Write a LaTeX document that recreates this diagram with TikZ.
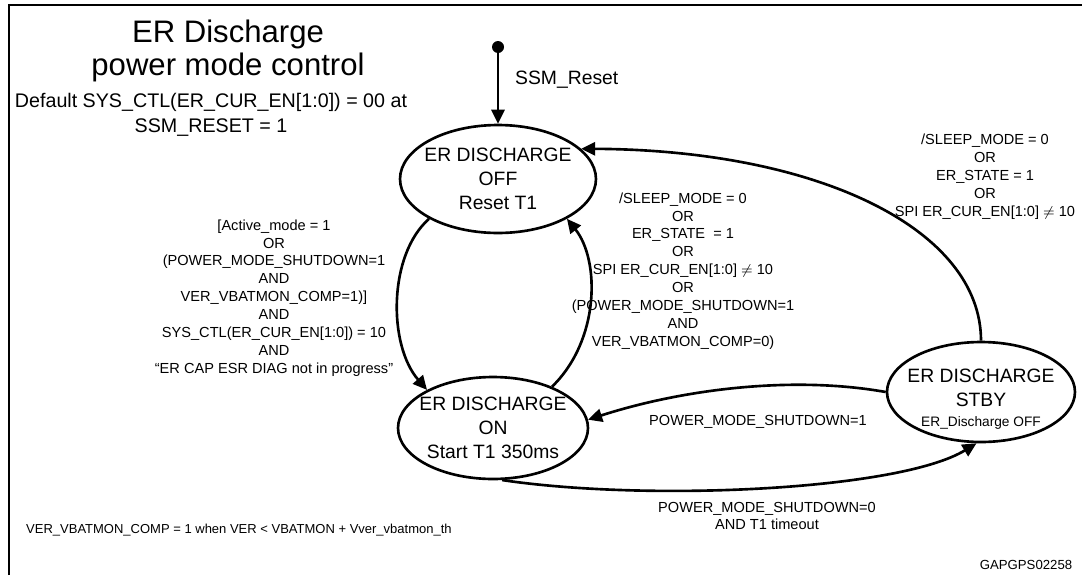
\documentclass[tikz,border=0pt]{standalone}
\usepackage{fontspec}
\setmainfont{Liberation Sans}
\usetikzlibrary{shapes.geometric, arrows.meta, positioning}

\begin{document}
\begin{tikzpicture}[
    x=0.02cm, y=-0.02cm,
    state/.style={ellipse, draw, line width=1.5pt, inner sep=0pt},
    statetext/.style={align=center, font=\fontsize{11}{13.5}\selectfont},
    cond/.style={align=center, font=\fontsize{8.3}{10.2}\selectfont},
    arrow/.style={-{Triangle[length=8pt, width=7.5pt]}, line width=1.5pt}
]
    \useasboundingbox (0,0) rectangle (1082,575);
    \draw[line width=0.8pt] (9,575) -- (9,5) -- (1082,5);

    \node[align=center, font=\fontsize{17.7}{18.7}\selectfont] (title) at (228,51) {ER Discharge\\power mode control};
    \node[align=center, font=\fontsize{11.2}{14}\selectfont] (default) at (211,115) {Default SYS\_CTL(ER\_CUR\_EN[1:0]) = 00 at\\SSM\_RESET = 1};

    % states
    \node[state, minimum width=3.92cm, minimum height=2.16cm] (off) at (498,179) {};
    \node[state, minimum width=3.8cm, minimum height=2.04cm] (on) at (493,428) {};
    \node[state, minimum width=3.76cm, minimum height=2cm] (stby) at (981,392) {};
    \node[statetext] (offtext) at (off.center) {ER DISCHARGE\\OFF\\Reset T1};
    \node[statetext] (ontext) at (on.center) {ER DISCHARGE\\ON\\Start T1 350ms};
    \node[statetext] (stbytext) at (981,399) {ER DISCHARGE\\STBY\\[-2pt]\fontsize{7.8}{9}\selectfont ER\_Discharge OFF};

    % reset entry
    \node[circle, fill, inner sep=0pt, minimum size=0.24cm] (init) at (498,47) {};
    \draw[arrow] (init) -- (off.north);
    \node[anchor=west, font=\fontsize{11}{13}\selectfont] (reset) at (509,80) {SSM\_Reset};

    % transitions
    \draw[arrow] (off.210) .. controls (388,255) and (388,345) .. (on.150);
    \draw[arrow] (on.35) .. controls (600,340) and (600,260) .. (off.330);
    \draw[arrow] (stby.north) .. controls (981,230) and (820,150) .. (off.20);
    \draw[arrow] (stby.180) .. controls (790,375) and (680,390) .. (on.5);
    \draw[arrow] (on.280) .. controls (650,502) and (900,490) .. (stby.265);

    % conditions
    \node[cond] (tOn) at (274,298) {[Active\_mode = 1\\OR\\(POWER\_MODE\_SHUTDOWN=1\\AND\\VER\_VBATMON\_COMP=1)]\\AND\\SYS\_CTL(ER\_CUR\_EN[1:0]) = 10\\AND\\“ER CAP ESR DIAG not in progress”};
    \node[cond] (tOff) at (683,271) {/SLEEP\_MODE = 0\\OR\\ER\_STATE\ \ = 1\\OR\\SPI ER\_CUR\_EN[1:0] $\neq$ 10\\OR\\(POWER\_MODE\_SHUTDOWN=1\\AND\\VER\_VBATMON\_COMP=0)};
    \node[cond] (tStbyOff) at (985,177) {/SLEEP\_MODE = 0\\OR\\ER\_STATE = 1\\OR\\SPI ER\_CUR\_EN[1:0] $\neq$ 10};
    \node[cond] (tStbyOn) at (758,422) {POWER\_MODE\_SHUTDOWN=1};
    \node[cond] (tOnStby) at (767,516) {POWER\_MODE\_SHUTDOWN=0\\AND T1 timeout};

    \node[anchor=west, font=\fontsize{7.4}{9}\selectfont] (note) at (20,530) {VER\_VBATMON\_COMP = 1 when VER < VBATMON + Vver\_vbatmon\_th};
    \node[font=\fontsize{7.5}{9}\selectfont] (figid) at (1026,565) {GAPGPS02258};
\end{tikzpicture}
\end{document}
